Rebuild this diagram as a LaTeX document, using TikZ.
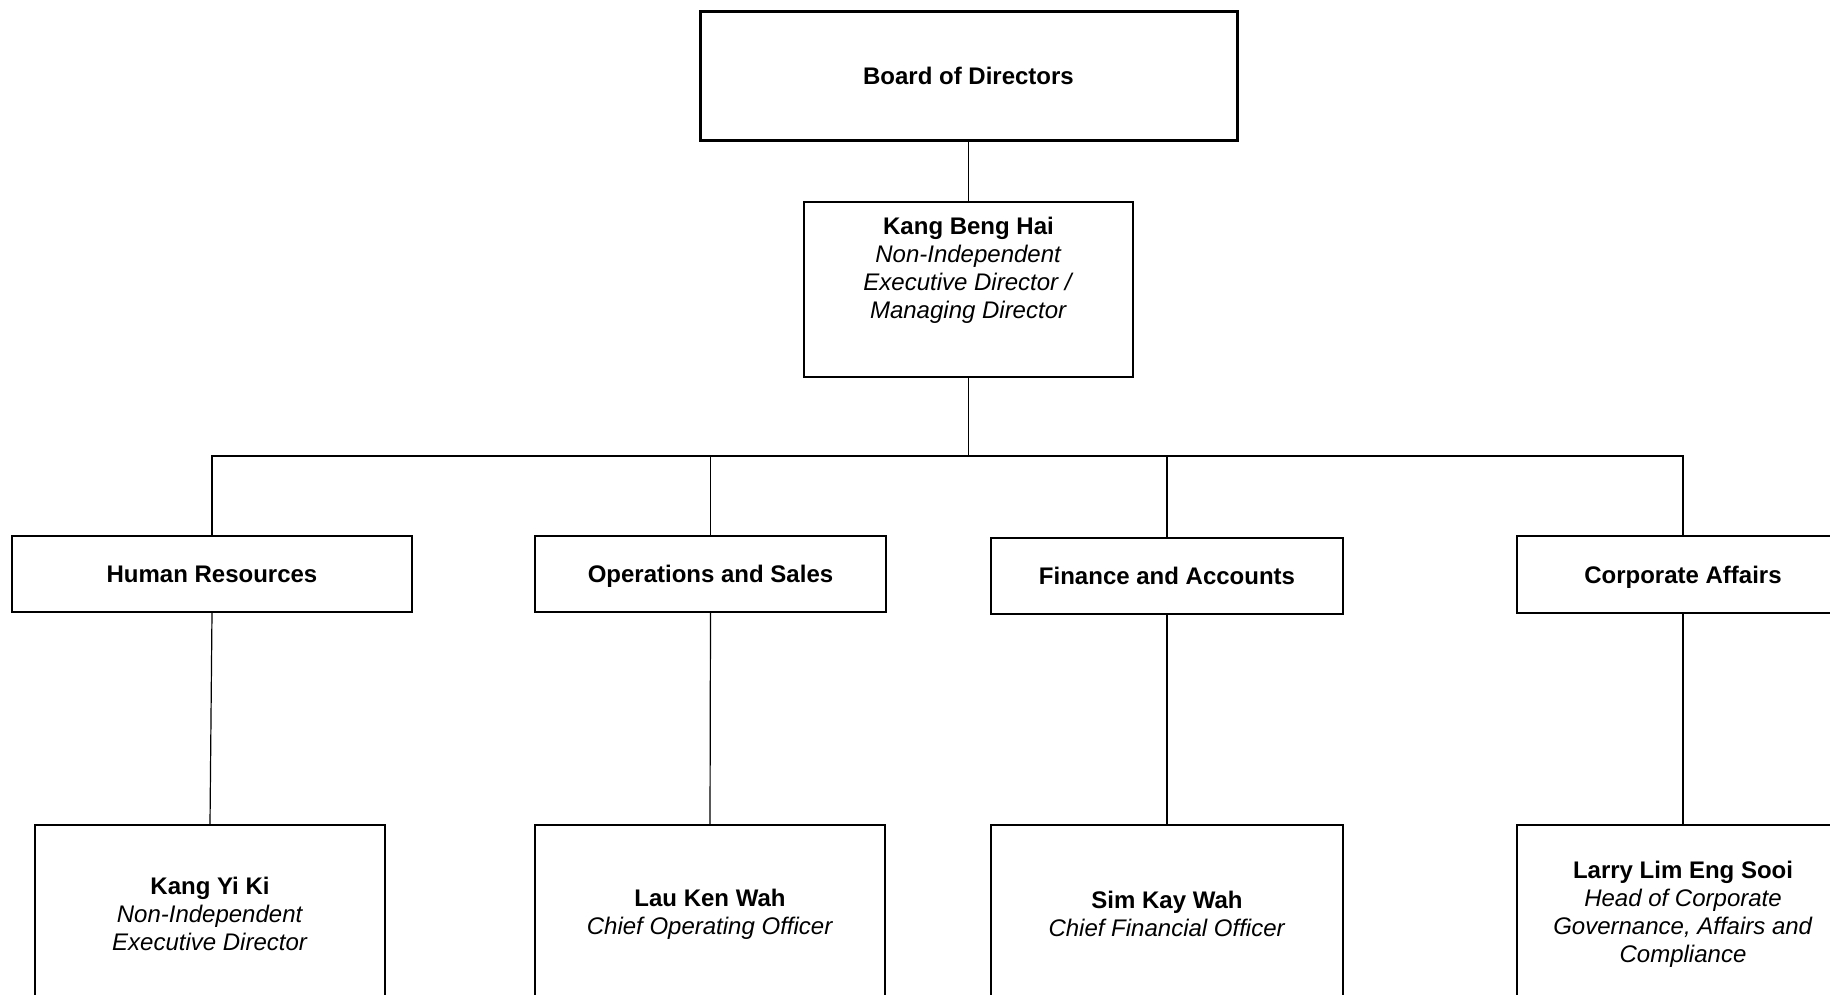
\documentclass[tikz,border=0pt]{standalone}
\usepackage{fontspec}
\setmainfont{Liberation Sans}
\begin{document}
\begin{tikzpicture}[x=0.5pt,y=-0.5pt]
\tikzset{
  orgbox/.style={draw=black, line width=0.6pt, rectangle, inner sep=0pt, align=center, font=\fontsize{12}{14}\selectfont},
  unitbox/.style={orgbox, text height=8.6pt, text depth=0pt},
  orgtxt/.style={inner sep=0pt, align=center, font=\fontsize{12}{14}\selectfont},
  link/.style={draw=black, line width=0.6pt},
}
\useasboundingbox (0,0) rectangle (1830,995);
\clip (0,0) rectangle (1830,995);
\fill[white] (0,0) rectangle (1830,995);

% top
\node[unitbox, line width=1.5pt, minimum width=268.5pt, minimum height=64pt] (board) at (968.5,76) {\textbf{Board of Directors}};
\node[orgbox, minimum width=164.5pt, minimum height=87.5pt] (kbh) at (968.5,289.5) {};
\node[orgtxt] (kbht) at (968.5,270) {\textbf{Kang Beng Hai}\\\textit{Non-Independent}\\\textit{Executive Director /}\\\textit{Managing Director}};

% level 2
\node[unitbox, minimum width=200pt, minimum height=38pt] (hr) at (212,574) {\textbf{Human Resources}};
\node[unitbox, minimum width=175.5pt, minimum height=38pt] (ops) at (710.5,574) {\textbf{Operations and Sales}};
\node[unitbox, minimum width=176pt, minimum height=38pt] (fin) at (1167,576) {\textbf{Finance and Accounts}};
\node[unitbox, minimum width=166pt, minimum height=38.5pt] (corp) at (1683,574.5) {\textbf{Corporate Affairs}};

% level 3
\node[orgbox, minimum width=175pt, minimum height=89pt] (kyk) at (210,914) {\textbf{Kang Yi Ki}\\\textit{Non-Independent}\\\textit{Executive Director}};
\node[orgbox, minimum width=175pt, minimum height=89pt] (lkw) at (710,914) {\textbf{Lau Ken Wah}\\\textit{Chief Operating Officer}};
\node[orgbox, minimum width=176pt, minimum height=89pt] (skw) at (1167,914) {\textbf{Sim Kay Wah}\\\textit{Chief Financial Officer}};
\node[orgbox, minimum width=166pt, minimum height=89pt] (larry) at (1683,914) {\textbf{Larry Lim Eng Sooi}\\\textit{Head of Corporate}\\\textit{Governance, Affairs and}\\\textit{Compliance}};

% connectors
\coordinate (bus) at (968.5,456);
\draw[link] (board.south) -- (kbh.north);
\draw[link] (kbh.south) -- (bus);
\draw[link] (hr.north) |- (bus) -| (corp.north);
\draw[link] (ops.north) -- (ops.north |- bus);
\draw[link] (fin.north) -- (fin.north |- bus);
\draw[link] (hr.south) -- (kyk.north);
\draw[link] (ops.south) -- (lkw.north);
\draw[link] (fin.south) -- (skw.north);
\draw[link] (corp.south) -- (larry.north);
\end{tikzpicture}
\end{document}
